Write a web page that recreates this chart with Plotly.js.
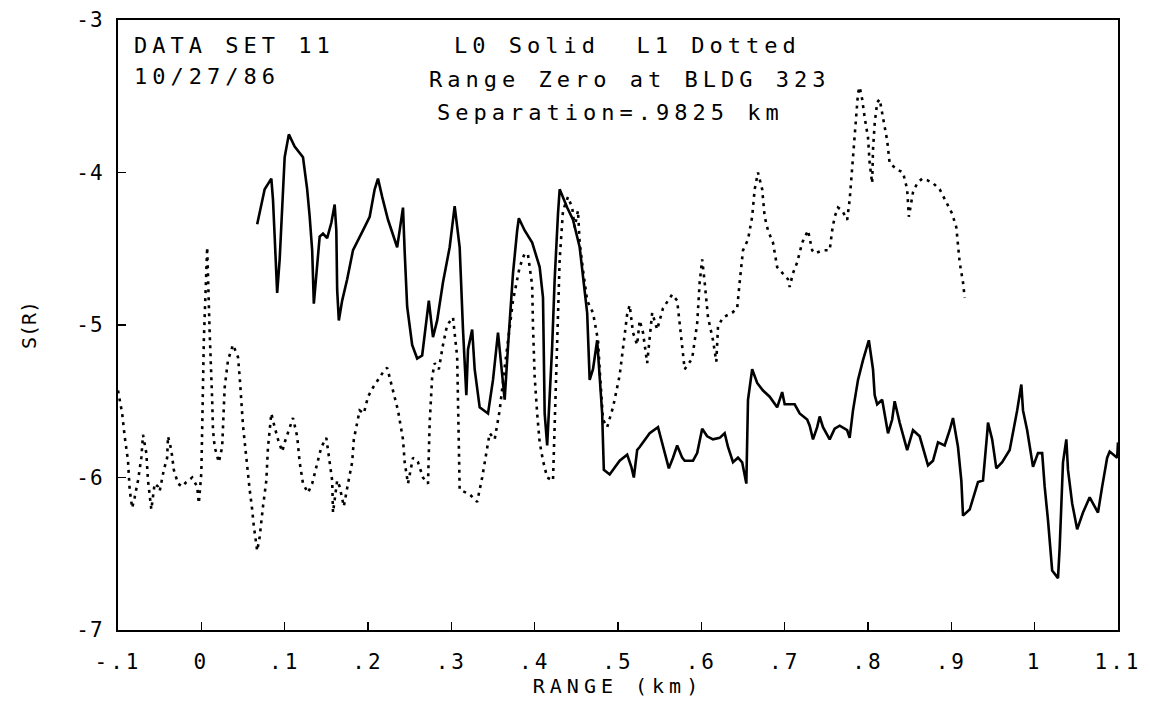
<!DOCTYPE html>
<html>
<head>
<meta charset="utf-8">
<script src="https://cdn.plot.ly/plotly-3.0.1.min.js"></script>
<style>
  html, body { margin: 0; padding: 0; background: #fff; }
  #chart { width: 1150px; height: 708px; }
  .annotation-text, .g-xtitle text { letter-spacing: 5px; }
  .xtick text { letter-spacing: 3px; }
  .ytick text { letter-spacing: 1px; }
</style>
</head>
<body>
<div id="chart"></div>
<script>
// L0 (solid) series
const l0Range = [0.067,0.070,0.076,0.084,0.086,0.088,0.091,0.094,0.097,0.100,0.105,0.112,0.122,0.127,0.130,0.133,0.135,0.139,0.142,0.146,0.151,0.156,0.160,0.162,0.163,0.165,0.169,0.175,0.182,0.194,0.202,0.208,0.212,0.217,0.224,0.235,0.238,0.242,0.244,0.247,0.253,0.259,0.265,0.271,0.273,0.278,0.283,0.290,0.298,0.304,0.310,0.314,0.318,0.320,0.325,0.328,0.334,0.344,0.350,0.356,0.361,0.364,0.368,0.374,0.379,0.381,0.388,0.397,0.406,0.410,0.412,0.415,0.421,0.424,0.428,0.430,0.439,0.446,0.454,0.458,0.463,0.466,0.470,0.475,0.477,0.481,0.482,0.483,0.490,0.502,0.511,0.516,0.519,0.523,0.526,0.538,0.548,0.554,0.561,0.566,0.571,0.577,0.580,0.590,0.595,0.601,0.607,0.614,0.622,0.628,0.632,0.638,0.644,0.649,0.654,0.656,0.661,0.667,0.674,0.682,0.691,0.697,0.700,0.712,0.718,0.727,0.730,0.734,0.739,0.742,0.746,0.754,0.760,0.766,0.775,0.778,0.782,0.788,0.794,0.801,0.806,0.808,0.811,0.817,0.820,0.824,0.829,0.832,0.838,0.847,0.854,0.862,0.872,0.878,0.884,0.892,0.898,0.902,0.908,0.912,0.914,0.922,0.932,0.938,0.943,0.944,0.949,0.954,0.961,0.970,0.979,0.984,0.986,0.991,0.998,1.004,1.009,1.012,1.016,1.021,1.028,1.030,1.034,1.038,1.040,1.045,1.051,1.058,1.066,1.076,1.081,1.087,1.090,1.099,1.100];
const l0Value = [-4.34,-4.26,-4.11,-4.04,-4.18,-4.42,-4.79,-4.57,-4.18,-3.90,-3.75,-3.83,-3.90,-4.11,-4.29,-4.51,-4.86,-4.62,-4.42,-4.40,-4.43,-4.33,-4.21,-4.38,-4.77,-4.97,-4.84,-4.70,-4.51,-4.38,-4.29,-4.11,-4.04,-4.16,-4.31,-4.49,-4.38,-4.23,-4.52,-4.88,-5.13,-5.22,-5.20,-4.92,-4.84,-5.08,-4.97,-4.72,-4.49,-4.22,-4.49,-5.03,-5.46,-5.16,-5.03,-5.29,-5.54,-5.58,-5.36,-5.05,-5.34,-5.49,-5.14,-4.66,-4.38,-4.30,-4.38,-4.46,-4.62,-4.82,-5.58,-5.79,-5.14,-4.70,-4.27,-4.11,-4.23,-4.31,-4.49,-4.70,-4.92,-5.36,-5.29,-5.10,-5.25,-5.58,-5.77,-5.95,-5.98,-5.89,-5.85,-5.93,-6.00,-5.82,-5.80,-5.71,-5.67,-5.80,-5.94,-5.87,-5.79,-5.87,-5.89,-5.89,-5.84,-5.68,-5.73,-5.75,-5.74,-5.71,-5.80,-5.90,-5.87,-5.90,-6.04,-5.49,-5.29,-5.38,-5.43,-5.47,-5.54,-5.44,-5.52,-5.52,-5.58,-5.62,-5.66,-5.75,-5.67,-5.60,-5.67,-5.75,-5.68,-5.66,-5.69,-5.74,-5.56,-5.36,-5.23,-5.10,-5.29,-5.46,-5.52,-5.49,-5.58,-5.71,-5.62,-5.50,-5.64,-5.82,-5.69,-5.73,-5.92,-5.89,-5.77,-5.79,-5.69,-5.61,-5.80,-6.02,-6.25,-6.21,-6.03,-6.02,-5.71,-5.64,-5.75,-5.94,-5.90,-5.82,-5.56,-5.39,-5.56,-5.69,-5.93,-5.84,-5.84,-6.06,-6.28,-6.61,-6.66,-6.46,-5.90,-5.75,-5.95,-6.17,-6.34,-6.23,-6.13,-6.23,-6.06,-5.87,-5.83,-5.87,-5.77];

// L1 (dotted) series
const l1Range = [-0.100,-0.098,-0.095,-0.092,-0.088,-0.086,-0.083,-0.080,-0.076,-0.072,-0.070,-0.066,-0.064,-0.060,-0.056,-0.052,-0.050,-0.045,-0.041,-0.040,-0.036,-0.033,-0.028,-0.023,-0.018,-0.011,-0.005,-0.003,0.000,0.001,0.003,0.007,0.008,0.010,0.013,0.014,0.016,0.021,0.025,0.027,0.028,0.032,0.038,0.044,0.046,0.050,0.055,0.058,0.061,0.063,0.067,0.070,0.074,0.078,0.080,0.084,0.088,0.092,0.097,0.100,0.105,0.110,0.115,0.118,0.122,0.128,0.133,0.139,0.144,0.150,0.153,0.157,0.158,0.163,0.166,0.171,0.176,0.181,0.183,0.187,0.190,0.195,0.200,0.206,0.218,0.223,0.230,0.236,0.242,0.244,0.248,0.254,0.260,0.266,0.272,0.274,0.277,0.280,0.285,0.290,0.295,0.302,0.307,0.308,0.309,0.310,0.322,0.331,0.337,0.343,0.346,0.352,0.358,0.364,0.370,0.374,0.382,0.388,0.392,0.397,0.398,0.400,0.403,0.406,0.410,0.415,0.422,0.424,0.427,0.428,0.430,0.434,0.440,0.445,0.448,0.452,0.454,0.458,0.463,0.470,0.476,0.478,0.482,0.487,0.494,0.502,0.506,0.511,0.514,0.518,0.523,0.526,0.530,0.535,0.541,0.547,0.554,0.565,0.571,0.574,0.577,0.580,0.589,0.595,0.598,0.601,0.604,0.608,0.614,0.618,0.620,0.626,0.637,0.643,0.646,0.650,0.656,0.661,0.664,0.668,0.673,0.676,0.680,0.686,0.691,0.698,0.704,0.706,0.710,0.715,0.721,0.728,0.733,0.736,0.746,0.754,0.757,0.760,0.764,0.769,0.775,0.778,0.782,0.784,0.787,0.788,0.790,0.793,0.796,0.800,0.802,0.805,0.806,0.808,0.811,0.814,0.818,0.823,0.826,0.835,0.842,0.847,0.849,0.854,0.859,0.865,0.871,0.878,0.886,0.895,0.901,0.906,0.908,0.910,0.914,0.916];
const l1Value = [-5.43,-5.49,-5.58,-5.73,-5.89,-6.08,-6.20,-6.13,-6.02,-5.87,-5.72,-5.84,-6.02,-6.21,-6.04,-6.06,-6.09,-5.95,-5.87,-5.73,-5.82,-5.95,-6.04,-6.06,-6.03,-6.00,-6.06,-6.17,-5.97,-5.69,-5.10,-4.49,-4.72,-5.05,-5.49,-5.69,-5.80,-5.90,-5.80,-5.58,-5.41,-5.23,-5.13,-5.21,-5.34,-5.66,-5.95,-6.08,-6.21,-6.32,-6.48,-6.39,-6.19,-6.02,-5.80,-5.58,-5.67,-5.75,-5.83,-5.77,-5.69,-5.61,-5.73,-5.90,-6.04,-6.10,-6.04,-5.90,-5.80,-5.74,-5.87,-6.02,-6.23,-6.02,-6.06,-6.19,-6.04,-5.90,-5.75,-5.64,-5.56,-5.58,-5.47,-5.41,-5.31,-5.28,-5.43,-5.56,-5.75,-5.90,-6.04,-5.87,-5.90,-6.00,-6.04,-5.64,-5.34,-5.25,-5.29,-5.13,-5.00,-4.95,-5.21,-5.54,-5.87,-6.08,-6.11,-6.16,-6.00,-5.82,-5.71,-5.75,-5.56,-5.28,-5.03,-4.84,-4.62,-4.53,-4.54,-4.74,-5.01,-5.34,-5.58,-5.77,-5.89,-6.00,-6.02,-5.67,-5.23,-4.90,-4.57,-4.25,-4.16,-4.23,-4.36,-4.25,-4.46,-4.64,-4.84,-4.92,-5.10,-5.29,-5.62,-5.67,-5.54,-5.33,-5.15,-4.93,-4.87,-5.05,-5.13,-4.97,-5.05,-5.25,-4.92,-5.03,-4.89,-4.80,-4.84,-4.99,-5.16,-5.29,-5.22,-4.99,-4.72,-4.57,-4.72,-4.95,-5.10,-5.24,-5.01,-4.95,-4.92,-4.89,-4.72,-4.51,-4.44,-4.29,-4.11,-4.00,-4.11,-4.29,-4.38,-4.46,-4.62,-4.66,-4.70,-4.75,-4.66,-4.59,-4.46,-4.38,-4.51,-4.53,-4.51,-4.51,-4.38,-4.29,-4.23,-4.25,-4.31,-4.18,-3.92,-3.74,-3.59,-3.48,-3.44,-3.52,-3.64,-3.77,-3.94,-4.07,-3.85,-3.68,-3.54,-3.52,-3.64,-3.79,-3.94,-3.98,-4.00,-4.11,-4.29,-4.13,-4.07,-4.04,-4.05,-4.07,-4.11,-4.20,-4.27,-4.36,-4.46,-4.59,-4.72,-4.82];

// Axis ticks
const xTickVals = [-0.1,0,0.1,0.2,0.3,0.4,0.5,0.6,0.7,0.8,0.9,1.0,1.1];
const xTickText = ["-.1","0",".1",".2",".3",".4",".5",".6",".7",".8",".9","1","1.1"];
const yTickVals = [-7,-6,-5,-4,-3];
const yTickText = ["-7","-6","-5","-4","-3"];

// Annotation texts
const noteLines = ["DATA SET 11", "10/27/86", "L0 Solid\u00a0 L1 Dotted", "Range Zero at BLDG 323", "Separation=.9825 km"];

const FONT = "DejaVu Sans Mono, monospace";

const traces = [
  { x: l0Range, y: l0Value, mode: "lines", name: "L0",
    line: { color: "#000", width: 2.6 }, hoverinfo: "skip" },
  { x: l1Range, y: l1Value, mode: "lines", name: "L1",
    line: { color: "#000", width: 2.6, dash: "3px,5px" }, hoverinfo: "skip" }
];

const notePos = [
  { x: 0.014, y: 0.959 },
  { x: 0.014, y: 0.908 },
  { x: 0.334, y: 0.959 },
  { x: 0.309, y: 0.902 },
  { x: 0.317, y: 0.848 }
];

const layout = {
  width: 1150, height: 708,
  margin: { l: 118, r: 32, t: 20, b: 78 },
  paper_bgcolor: "#fff", plot_bgcolor: "#fff",
  showlegend: false,
  font: { family: FONT, color: "#000", size: 21 },
  xaxis: {
    range: [-0.1, 1.1], tickvals: xTickVals, ticktext: xTickText,
    ticks: "inside", ticklen: 8, tickwidth: 1.5, tickcolor: "#000",
    showline: true, linecolor: "#000", linewidth: 2.2, mirror: true,
    showgrid: false, zeroline: false,
    tickfont: { family: FONT, size: 21, color: "#000" },
    ticklabelstandoff: 12,
    title: { text: "RANGE (km)", font: { family: FONT, size: 20, color: "#000" }, standoff: 6 }
  },
  yaxis: {
    range: [-7, -3], tickvals: yTickVals, ticktext: yTickText,
    ticks: "inside", ticklen: 8, tickwidth: 1.5, tickcolor: "#000",
    showline: true, linecolor: "#000", linewidth: 2.2, mirror: true,
    showgrid: false, zeroline: false,
    tickfont: { family: FONT, size: 21, color: "#000" },
    ticklabelstandoff: 8,
    title: { text: "S(R)", font: { family: FONT, size: 20, color: "#000" }, standoff: 34 }
  },
  annotations: noteLines.map((t, i) => ({
    text: t, xref: "paper", yref: "paper",
    x: notePos[i].x, y: notePos[i].y, xanchor: "left", yanchor: "middle",
    showarrow: false, font: { family: FONT, size: 22, color: "#000" }
  }))
};

Plotly.newPlot("chart", traces, layout, { staticPlot: true, displayModeBar: false });
</script>
</body>
</html>
